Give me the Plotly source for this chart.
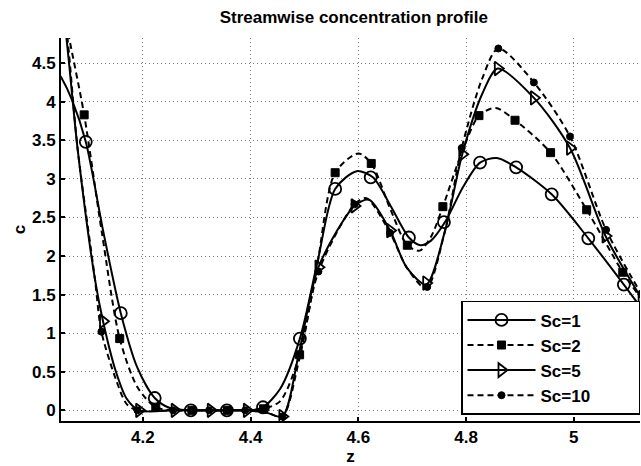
import plotly.graph_objects as go

# ---- curve knots ----
z_sc1 = [4.040, 4.048, 4.068, 4.094, 4.127, 4.159, 4.190, 4.222, 4.250, 4.289, 4.356, 4.400, 4.423,
         4.455, 4.4915, 4.525, 4.557, 4.597, 4.627, 4.660, 4.694, 4.715, 4.735, 4.761, 4.795,
         4.826, 4.857, 4.893, 4.959, 5.027, 5.093, 5.130]
c_sc1 = [4.40, 4.32, 4.03, 3.48, 2.30, 1.26, 0.55, 0.16, 0.03, 0.0, 0.0, 0.0, 0.04,
         0.28, 0.93, 1.95, 2.87, 3.10, 3.02, 2.65, 2.24, 2.14, 2.20, 2.44, 2.90,
         3.21, 3.27, 3.15, 2.80, 2.23, 1.63, 1.28]

z_sc2 = [4.040, 4.063, 4.091, 4.124, 4.157, 4.190, 4.224, 4.260, 4.291, 4.357, 4.424, 4.455,
         4.491, 4.524, 4.557, 4.600, 4.624, 4.660, 4.691, 4.714, 4.735, 4.757, 4.790, 4.824,
         4.855, 4.891, 4.957, 5.024, 5.091, 5.130]
c_sc2 = [5.65, 4.83, 3.83, 2.30, 0.93, 0.30, 0.04, 0.0, 0.0, 0.0, 0.02, 0.12,
         0.72, 1.90, 3.08, 3.33, 3.20, 2.60, 2.14, 2.07, 2.25, 2.64, 3.30, 3.82,
         3.92, 3.76, 3.34, 2.60, 1.79, 1.40]

z_sc5 = [4.040, 4.058, 4.079, 4.111, 4.126, 4.150, 4.170, 4.193, 4.259, 4.326, 4.393, 4.430,
         4.459, 4.490, 4.526, 4.593, 4.620, 4.659, 4.690, 4.726, 4.760, 4.793, 4.830, 4.859,
         4.926, 4.993, 5.059, 5.126]
c_sc5 = [5.80, 4.83, 3.38, 1.70, 1.155, 0.50, 0.15, 0.0, 0.0, 0.0, 0.0, -0.03,
         -0.08, 0.75, 1.855, 2.65, 2.73, 2.33, 1.85, 1.63, 2.30, 3.32, 4.10, 4.43,
         4.05, 3.40, 2.26, 1.45]

z_sc10 = [4.040, 4.060, 4.079, 4.111, 4.123, 4.150, 4.170, 4.190, 4.256, 4.323, 4.390, 4.430,
          4.459, 4.490, 4.526, 4.593, 4.615, 4.659, 4.690, 4.726, 4.760, 4.792, 4.830, 4.860,
          4.926, 4.993, 5.060, 5.126]
c_sc10 = [6.00, 4.83, 3.38, 1.70, 1.02, 0.40, 0.08, 0.0, 0.0, 0.0, 0.0, -0.03,
          -0.08, 0.65, 1.80, 2.67, 2.75, 2.30, 1.85, 1.58, 2.30, 3.40, 4.30, 4.69,
          4.25, 3.55, 2.34, 1.50]

# ---- marker positions ----
zm_sc1 = [4.094, 4.159, 4.222, 4.289, 4.356, 4.423, 4.4915, 4.557, 4.623, 4.694, 4.759, 4.826,
          4.893, 4.959, 5.027, 5.093]
cm_sc1 = [3.48, 1.26, 0.16, 0.0, 0.0, 0.04, 0.93, 2.87, 3.02, 2.24, 2.44, 3.21, 3.15, 2.80, 2.23, 1.63]

zm_sc2 = [4.091, 4.157, 4.224, 4.291, 4.357, 4.424, 4.491, 4.557, 4.624, 4.691, 4.757, 4.824,
          4.891, 4.957, 5.024, 5.091]
cm_sc2 = [3.83, 0.93, 0.04, 0.0, 0.0, 0.02, 0.72, 3.08, 3.20, 2.14, 2.64, 3.82, 3.76, 3.34, 2.60, 1.79]

zm_sc5 = [4.126, 4.193, 4.259, 4.326, 4.393, 4.459, 4.526, 4.593, 4.659, 4.726, 4.793, 4.859,
          4.926, 4.993, 5.059, 5.126]
cm_sc5 = [1.155, 0.0, 0.0, 0.0, 0.0, -0.08, 1.855, 2.65, 2.33, 1.65, 3.32, 4.43, 4.05, 3.40, 2.26, 1.45]

zm_sc10 = [4.123, 4.190, 4.256, 4.323, 4.390, 4.459, 4.526, 4.593, 4.659, 4.728, 4.792, 4.860,
           4.926, 4.993, 5.060, 5.126]
cm_sc10 = [1.02, 0.0, 0.0, 0.0, 0.0, -0.08, 1.80, 2.67, 2.30, 1.60, 3.40, 4.69, 4.25, 3.55, 2.34, 1.50]

names = ["Sc=1", "Sc=2", "Sc=5", "Sc=10"]
x_ticks = [4.2, 4.4, 4.6, 4.8, 5.0]
x_ticklabels = ["4.2", "4.4", "4.6", "4.8", "5"]
y_ticks = [0, 0.5, 1, 1.5, 2, 2.5, 3, 3.5, 4, 4.5]
y_ticklabels = ["0", "0.5", "1", "1.5", "2", "2.5", "3", "3.5", "4", "4.5"]

FONT = "Liberation Sans, Arial, Helvetica, sans-serif"
FS = 17
DASH = "6px,4px"
PAD = "&nbsp;" * 9  # right padding inside the legend box

series = [
    (z_sc1, c_sc1, zm_sc1, cm_sc1, "solid", dict(symbol="circle-open", size=12, color="black",
                                                  line=dict(color="black", width=1.8))),
    (z_sc2, c_sc2, zm_sc2, cm_sc2, DASH, dict(symbol="square", size=8, color="black",
                                               line=dict(color="black", width=1))),
    (z_sc5, c_sc5, zm_sc5, cm_sc5, "solid", dict(symbol="triangle-right-open", size=12, color="black",
                                                  line=dict(color="black", width=1.8))),
    (z_sc10, c_sc10, zm_sc10, cm_sc10, DASH, dict(symbol="circle", size=7, color="black",
                                                   line=dict(color="black", width=1))),
]

fig = go.Figure()
for name, (zc, cc, zm, cm, dash, mk) in zip(names, series):
    fig.add_trace(go.Scatter(x=zc, y=cc, mode="lines", line=dict(color="black", width=2, dash=dash,
                                                                   shape="spline", smoothing=0.8),
                             showlegend=False, legendgroup=name, hoverinfo="skip"))
    fig.add_trace(go.Scatter(x=zm, y=cm, mode="markers", marker=mk, showlegend=False,
                             legendgroup=name))
    fig.add_trace(go.Scatter(x=[None], y=[None], mode="lines+markers",
                             name="<b>" + name + "</b>" + PAD,
                             legendgroup=name,
                             line=dict(color="black", width=2, dash=dash), marker=mk))

axis_common = dict(
    showline=True, linecolor="black", linewidth=2, mirror=False,
    ticks="inside", ticklen=4, tickwidth=2, tickcolor="black",
    showgrid=True, gridcolor="#777777", gridwidth=1, griddash="1px,3px",
    zeroline=False, tickfont=dict(family=FONT, size=FS, color="black"),
)

fig.update_layout(
    width=641, height=466,
    margin=dict(l=61, r=1, t=38, b=43),
    paper_bgcolor="white", plot_bgcolor="white",
    title=dict(text="<b>Streamwise concentration profile</b>", x=0.552, xanchor="center",
               y=0.963, yanchor="middle", font=dict(family=FONT, size=FS, color="black")),
    xaxis=dict(range=[4.048, 5.123], tickvals=x_ticks, ticktext=["<b>%s</b>" % t for t in x_ticklabels],
               title=dict(text="<b>z</b>", font=dict(family=FONT, size=FS, color="black"), standoff=6),
               **axis_common),
    yaxis=dict(range=[-0.138, 4.826], tickvals=y_ticks, ticktext=["<b>%s</b>" % t for t in y_ticklabels],
               title=dict(text="<b>c</b>", font=dict(family=FONT, size=FS, color="black"), standoff=2),
               **axis_common),
    legend=dict(x=1, xanchor="right", y=0.016, yanchor="bottom", bgcolor="white",
                bordercolor="black", borderwidth=1.5, tracegroupgap=0, itemwidth=68,
                font=dict(family=FONT, size=FS, color="black")),
    showlegend=True,
)

fig.write_html("out.html")
